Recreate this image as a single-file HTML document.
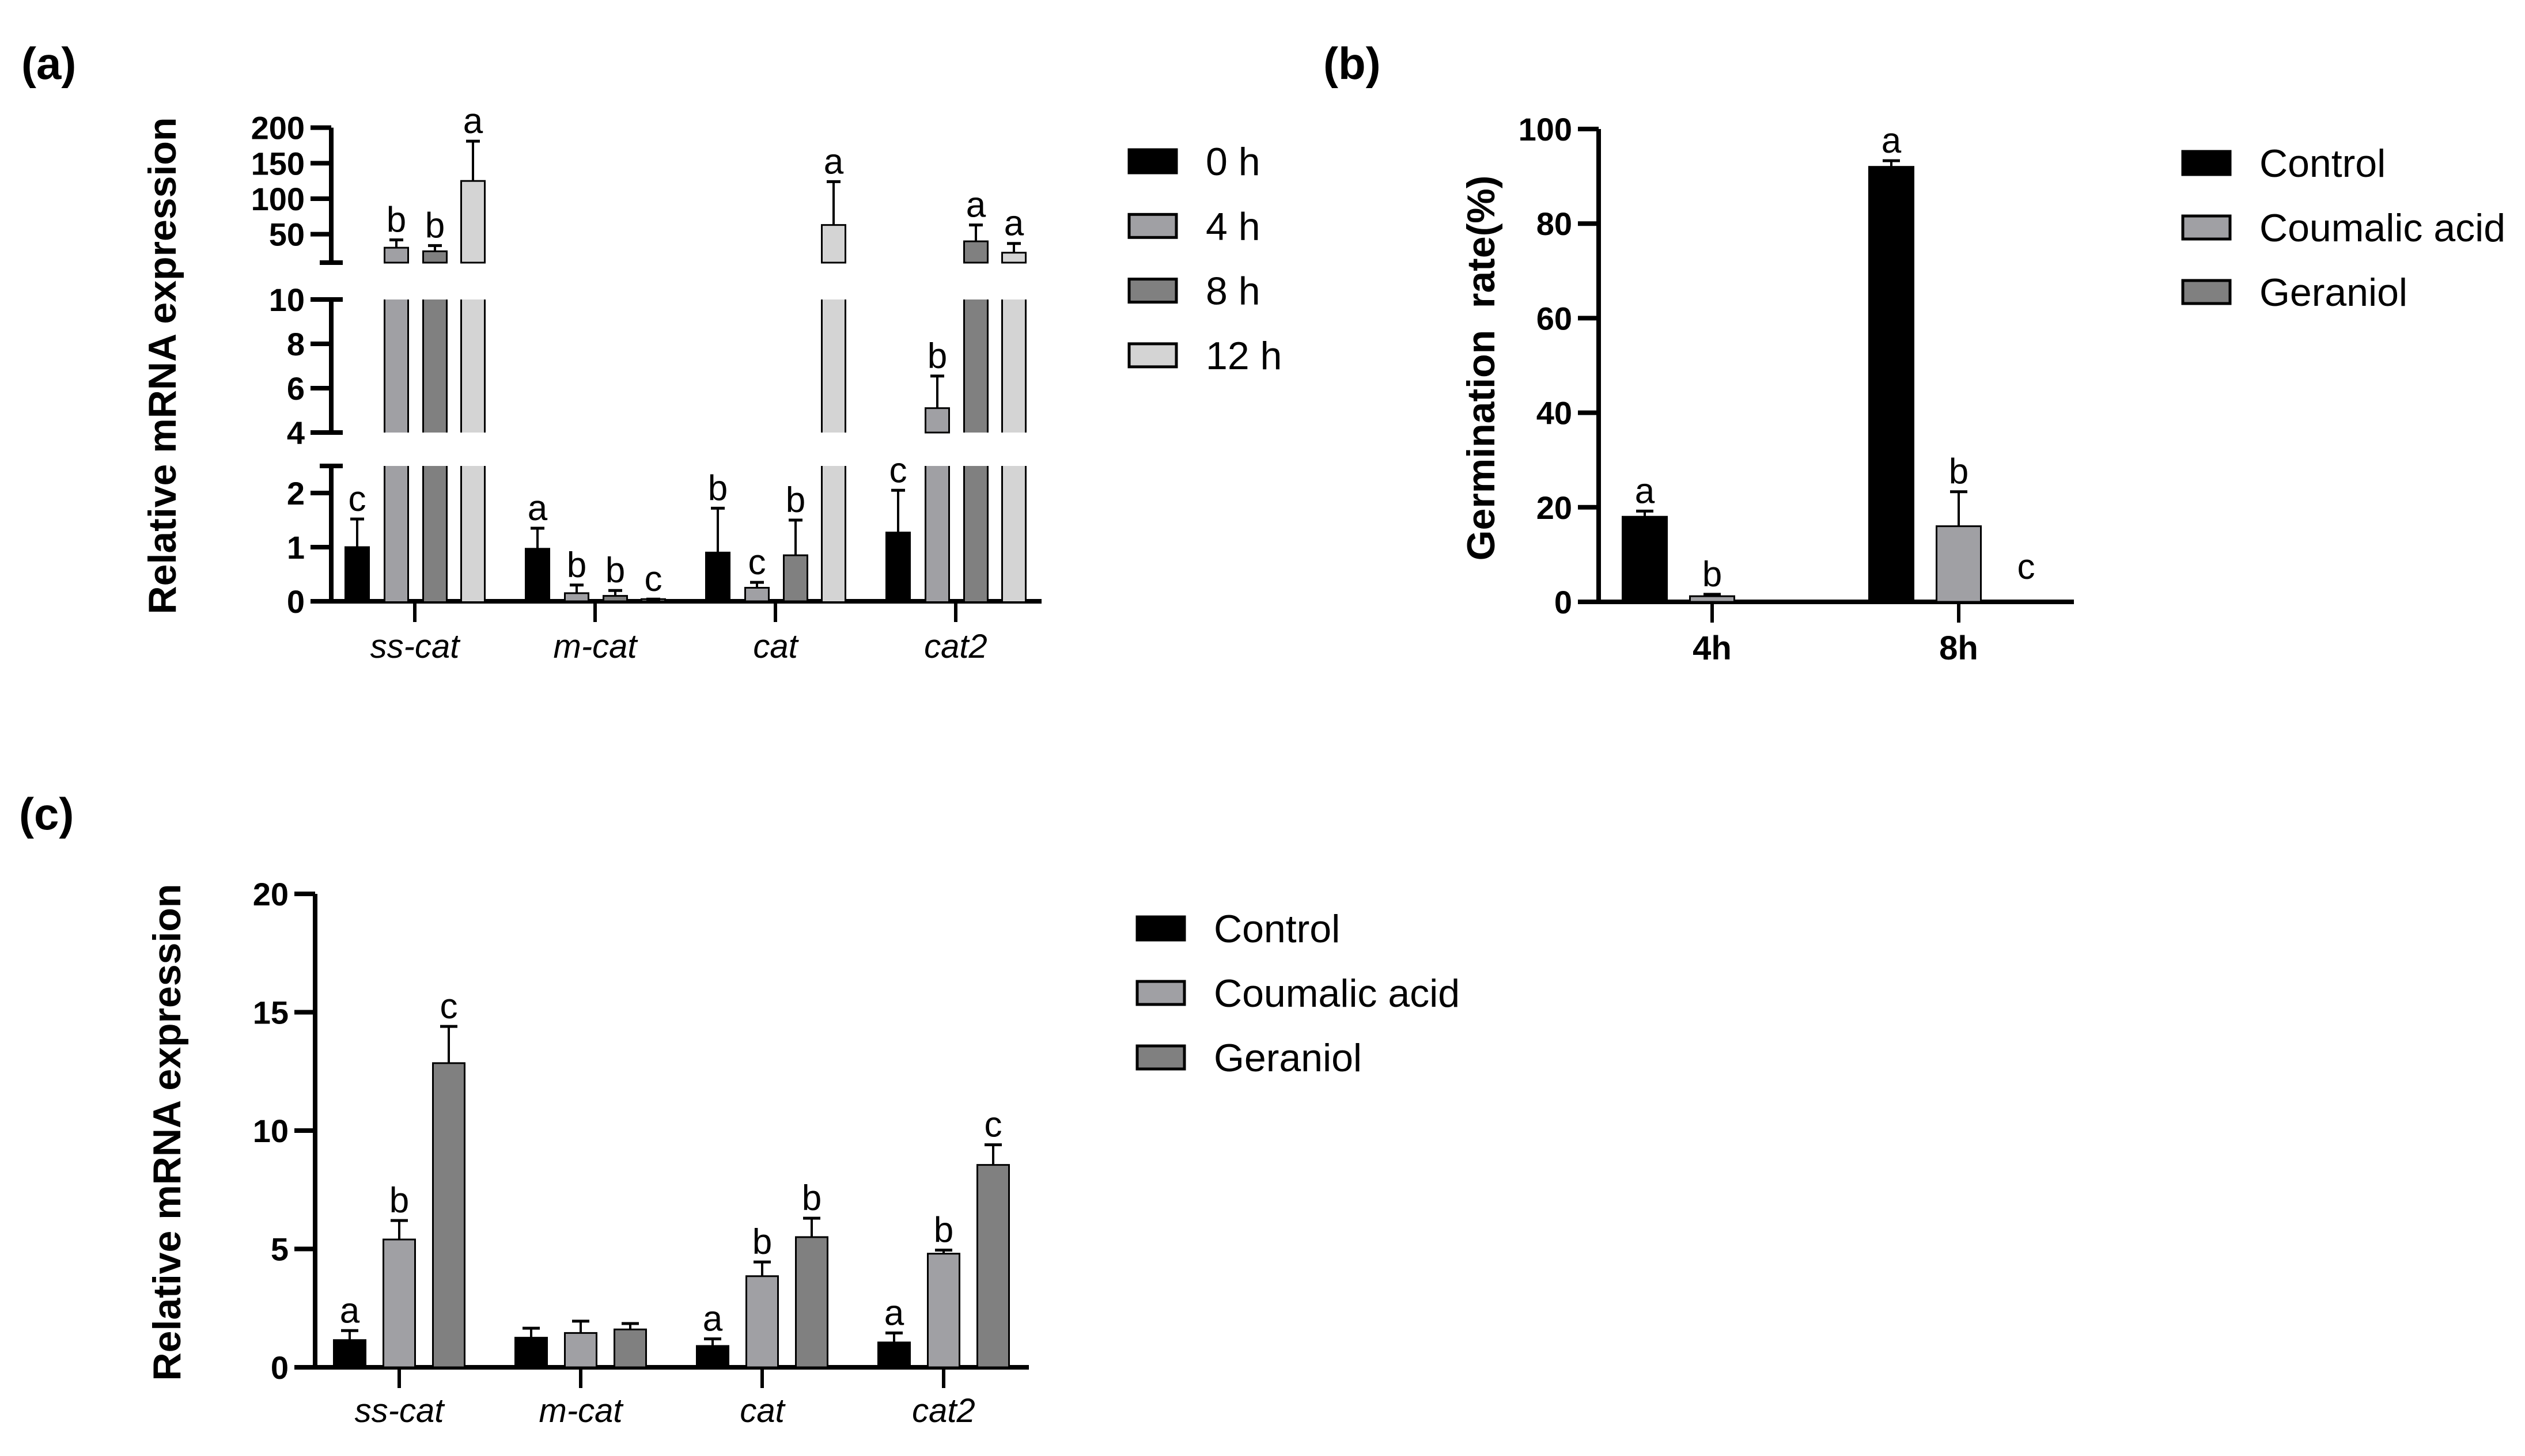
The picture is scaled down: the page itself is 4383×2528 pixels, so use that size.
<!DOCTYPE html>
<html><head><meta charset="utf-8">
<style>
html,body{margin:0;padding:0;background:#fff;}
svg{display:block;font-family:"Liberation Sans",Arial,sans-serif;}
</style></head>
<body>
<svg id="fig" width="4383" height="2528" viewBox="0 0 4383 2528" xmlns="http://www.w3.org/2000/svg">
<rect width="4383" height="2528" fill="#fff"/>
<text x="37" y="137" font-size="78" font-weight="bold">(a)</text>
<text x="2297" y="137" font-size="78" font-weight="bold">(b)</text>
<text x="33" y="1440" font-size="78" font-weight="bold">(c)</text>
<text transform="translate(305,635) rotate(-90)" text-anchor="middle" font-size="68" font-weight="bold">Relative mRNA expression</text>
<text transform="translate(2594,639) rotate(-90)" text-anchor="middle" font-size="68" font-weight="bold">Germination&#160; rate(%)</text>
<text transform="translate(313,1966) rotate(-90)" text-anchor="middle" font-size="68" font-weight="bold">Relative mRNA expression</text>
<g id="ga"></g>
<g id="gb"></g>
<g id="gc"></g>
</svg>
<script>
// ---- Panel (a) data ----
const aCategories = ["ss-cat","m-cat","cat","cat2"];
const aSeries = ["0 h","4 h","8 h","12 h"];
const a0h = [1.0, 0.97, 0.9, 1.27];
const a4h = [31, 0.15, 0.25, 5.1];
const a8h = [26, 0.1, 0.85, 40];
const a12h = [125, 0.04, 63, 24];
const a0hErr = [1.52, 1.35, 1.72, 2.05];
const a4hErr = [42, 0.3, 0.35, 6.55];
const a8hErr = [34, 0.2, 1.5, 63];
const a12hErr = [181, 0.04, 124, 37];
const a0hLet = ["c","a","b","c"];
const a4hLet = ["b","b","c","b"];
const a8hLet = ["b","b","b","a"];
const a12hLet = ["a","c","a","a"];
const aTicksBottom = [0,1,2];
const aTicksMid = [4,6,8,10];
const aTicksTop = [50,100,150,200];
// ---- Panel (b) data ----
const bCategories = ["4h","8h"];
const bSeries = ["Control","Coumalic acid","Geraniol"];
const bControl = [18, 92];
const bCoumalic = [1.2, 16];
const bGeraniol = [0, 0];
const bControlErr = [19.2, 93.3];
const bCoumalicErr = [1.6, 23.3];
const bGeraniolErr = [0, 0];
const bControlLet = ["a","a"];
const bCoumalicLet = ["b","b"];
const bGeraniolLet = ["","c"];
const bTicks = [0,20,40,60,80,100];
// ---- Panel (c) data ----
const cCategories = ["ss-cat","m-cat","cat","cat2"];
const cSeries = ["Control","Coumalic acid","Geraniol"];
const cControl = [1.15, 1.25, 0.9, 1.05];
const cCoumalic = [5.4, 1.45, 3.85, 4.8];
const cGeraniol = [12.85, 1.6, 5.5, 8.55];
const cControlErr = [1.55, 1.65, 1.2, 1.45];
const cCoumalicErr = [6.2, 1.95, 4.45, 4.95];
const cGeraniolErr = [14.4, 1.85, 6.3, 9.4];
const cControlLet = ["a","","a","a"];
const cCoumalicLet = ["b","","b","b"];
const cGeraniolLet = ["c","","b","c"];
const cTicks = [0,5,10,15,20];

const NS="http://www.w3.org/2000/svg";
function mk(parent,tag,attrs,text){const e=document.createElementNS(NS,tag);for(const k in attrs)e.setAttribute(k,attrs[k]);if(text!==undefined)e.textContent=text;parent.appendChild(e);return e;}
function line(p,x1,y1,x2,y2,w){return mk(p,"line",{x1,y1,x2,y2,stroke:"#000","stroke-width":w});}

const FILL4=["#000","#a0a0a4","#808080","#d4d4d4"];
const FILL3=["#000","#a0a0a4","#808080"];

// ===== Panel (a) =====
(function(){
  const g=document.getElementById("ga");
  const segs=[
    {lo:0,hi:2.5,y0:1044,k:94},
    {lo:4,hi:10,y0:751,k:38.5},
    {lo:10,hi:200,y0:456,k:1.2333}
  ];
  function ySeg(s,v){return s.y0-(v-s.lo)*s.k;}
  function ya(v){ if(v<=2.5)return ySeg(segs[0],v); if(v<=10&&v>=4)return ySeg(segs[1],v); if(v>10)return ySeg(segs[2],v); return ySeg(segs[0],2.5);}
  const axX=575;
  segs.forEach((s,i)=>{
    const top=ySeg(s,s.hi), bot=ySeg(s,s.lo);
    const l=line(g,axX,top,axX,i===0?1048:bot,8);
    
    
    if(i>0){const c=line(g,axX-20,bot,axX+20,bot,8);}
    if(i<2){const c=line(g,axX-20,top,axX+20,top,8);}
  });
  const allTicks=[[aTicksBottom,0],[aTicksMid,1],[aTicksTop,2]];
  allTicks.forEach(([arr,si])=>{
    arr.forEach(v=>{
      const y=ySeg(segs[si],v);
      const t=line(g,axX-36,y,axX,y,8);
      
      
      const tx=mk(g,"text",{x:axX-46,y:y+20,"text-anchor":"end","font-size":56,"font-weight":"bold"},String(v));
      
      
    });
  });
  const xa=line(g,543,1044,1808,1044,8);
  
  
  const vals=[a0h,a4h,a8h,a12h], errs=[a0hErr,a4hErr,a8hErr,a12hErr], lets=[a0hLet,a4hLet,a8hLet,a12hLet];
  const offs=[-100,-32,35,101], bw=41;
  aCategories.forEach((cat,ci)=>{
    const cx=720+ci*313;
    const tk=line(g,cx,1044,cx,1080,6);
    
    
    const lb=mk(g,"text",{x:cx,y:1142,"text-anchor":"middle","font-size":58,"font-style":"italic"},cat);
    
    
    vals.forEach((arr,si)=>{
      const v=arr[ci], x=cx+offs[si]-bw/2;
      segs.forEach(s=>{
        if(v<=s.lo && s.lo>0) return;
        const vt=Math.min(v,s.hi);
        const yt=ySeg(s,vt), yb=ySeg(s,s.lo);
        if(yb-yt<=0) return;
        const isTop=(v<=s.hi);
        const r=mk(g,"rect",{x:x,y:yt,width:bw,height:yb-yt,fill:FILL4[si],stroke:isTop?"#000":"none","stroke-width":3});
        
        
        if(!isTop){
          line(g,x,yt,x,yb,3);
          line(g,x+bw,yt,x+bw,yb,3);
        }
      });
      const e=errs[si][ci];
      const yv=ya(v), ye=ya(e);
      const eb=line(g,cx+offs[si],yv,cx+offs[si],ye,4);
      
      
      line(g,cx+offs[si]-12,ye,cx+offs[si]+12,ye,5);
      const lt=mk(g,"text",{x:cx+offs[si],y:ye-14,"text-anchor":"middle","font-size":62},lets[si][ci]);
      
      
    });
  });
  aSeries.forEach((s,i)=>{
    const cy=280+i*112.3;
    const r=mk(g,"rect",{x:1960,y:cy-20,width:82,height:40,fill:FILL4[i],stroke:"#000","stroke-width":5});
    
    
    const t=mk(g,"text",{x:2093,y:cy+24,"font-size":68},s);
    
    
  });
})();

function grouped(gid,cfg){
  const g=document.getElementById(gid);
  const y=v=>cfg.y0-(v-0)*cfg.k;
  const ax=line(g,cfg.axX,y(cfg.ticks[cfg.ticks.length-1]),cfg.axX,cfg.y0+4,8);
  
  
  cfg.ticks.forEach(v=>{
    const t=line(g,cfg.axX-36,y(v),cfg.axX,y(v),8);
    
    
    const tx=mk(g,"text",{x:cfg.axX-46,y:y(v)+20,"text-anchor":"end","font-size":56,"font-weight":"bold"},String(v));
    
    
  });
  const xa=line(g,cfg.x0,cfg.y0,cfg.x1,cfg.y0,8);
  
  
  cfg.cats.forEach((cat,ci)=>{
    const cx=cfg.c0+ci*cfg.cs;
    const tk=line(g,cx,cfg.y0,cx,cfg.y0+36,6);
    
    
    const lb=mk(g,"text",{x:cx,y:cfg.y0+cfg.labDy,"text-anchor":"middle","font-size":58,"font-style":cfg.italic?"italic":"normal","font-weight":cfg.italic?"normal":"bold"},cat);
    
    
    cfg.vals.forEach((arr,si)=>{
      const v=arr[ci], bx=cx+cfg.offs[si];
      if(v>0){
        const r=mk(g,"rect",{x:bx-cfg.bw/2,y:y(v),width:cfg.bw,height:cfg.y0-y(v),fill:FILL3[si],stroke:"#000","stroke-width":3});
        
        
      }
      const e=cfg.errs[si][ci];
      if(e>v){
        const eb=line(g,bx,y(v),bx,y(e),4);
        
        
        line(g,bx-15,y(e),bx+15,y(e),5);
      }
      const L=cfg.lets[si][ci];
      if(L){
        const top=Math.max(e,v);
        const lt=mk(g,"text",{x:bx,y:(top>0?y(top)-14:y(top)-40),"text-anchor":"middle","font-size":62},L);
        
        
      }
    });
  });
  cfg.series.forEach((s,i)=>{
    const cy=cfg.ly+i*cfg.lstep;
    const r=mk(g,"rect",{x:cfg.lx,y:cy-20,width:82,height:40,fill:FILL3[i],stroke:"#000","stroke-width":5});
    
    
    const t=mk(g,"text",{x:cfg.lx+133,y:cy+24,"font-size":68},s);
    
    
  });
}
grouped("gb",{y0:1045,k:8.21,axX:2775,x0:2743,x1:3600,ticks:bTicks,cats:bCategories,c0:2972,cs:428,
  offs:[-117,0,117],bw:77,vals:[bControl,bCoumalic,bGeraniol],errs:[bControlErr,bCoumalicErr,bGeraniolErr],
  lets:[bControlLet,bCoumalicLet,bGeraniolLet],italic:false,labDy:100,series:bSeries,lx:3789,ly:283,lstep:112});
grouped("gc",{y0:2374,k:41.1,axX:547,x0:522,x1:1786,ticks:cTicks,cats:cCategories,c0:693,cs:315,
  offs:[-86,0,86],bw:55,vals:[cControl,cCoumalic,cGeraniol],errs:[cControlErr,cCoumalicErr,cGeraniolErr],
  lets:[cControlLet,cCoumalicLet,cGeraniolLet],italic:true,labDy:95,series:cSeries,lx:1974,ly:1612,lstep:112});
</script>
</body></html>
